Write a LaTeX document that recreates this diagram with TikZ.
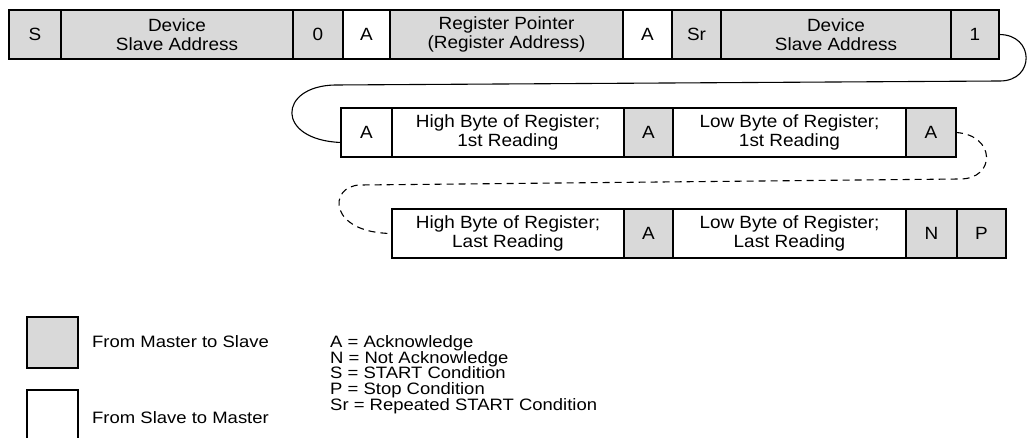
\documentclass[tikz,border=0pt]{standalone}
\usepackage{fontspec}
\setmainfont{Liberation Sans}
\newfontfamily\cellfamily{Liberation Sans}[FakeStretch=1.07]
\newfontfamily\keyfamily{Liberation Sans}[FakeStretch=1.12]
\usepackage{xcolor}
\usepackage{tikz}
\usetikzlibrary{positioning}

\definecolor{mastergray}{RGB}{217,217,217}
\newcommand{\cellfont}{\cellfamily\fontsize{17.7}{19}\selectfont\lineskiplimit=-20pt\relax}
\newcommand{\keyfont}{\keyfamily\fontsize{16.5}{15.6}\selectfont\lineskiplimit=-20pt\relax}

\begin{document}
\begin{tikzpicture}[
        x=1pt, y=-1pt,
        node distance=0pt,
        cell/.style={
            rectangle,
            draw,
            line width=1.7pt,
            minimum height=49pt,
            inner sep=0pt,
            outer sep=0pt,
            align=center,
            font=\cellfont
        },
        master/.style={cell, fill=mastergray},
        slave/.style={cell, fill=white},
        link/.style={line width=1.1pt},
        legend/.style={inner sep=0pt, font=\keyfont}
    ]
    \useasboundingbox (0,0) rectangle (1028,438);

    % Write pointer, then repeated start
    \node[master, minimum width=52pt, anchor=north west] (start) at (9,10) {S};
    \node[master, minimum width=232pt, right=of start] (addr write) {Device\\Slave Address};
    \node[master, minimum width=50pt, right=of addr write] (zero) {0};
    \node[slave, minimum width=47pt, right=of zero] (ack addr) {A};
    \node[master, minimum width=233pt, right=of ack addr] (reg pointer) {Register Pointer\\(Register Address)};
    \node[slave, minimum width=49pt, right=of reg pointer] (ack reg) {A};
    \node[master, minimum width=49pt, right=of ack reg] (restart) {Sr};
    \node[master, minimum width=230pt, right=of restart] (addr read) {Device\\Slave Address};
    \node[master, minimum width=48pt, right=of addr read] (one) {1};

    % First reading
    \node[slave, minimum width=51pt, anchor=north west] (ack read) at (341,108) {A};
    \node[slave, minimum width=232pt, right=of ack read] (high first) {High Byte of Register;\\1st Reading};
    \node[master, minimum width=49pt, right=of high first] (ack high first) {A};
    \node[slave, minimum width=233pt, right=of ack high first] (low first) {Low Byte of Register;\\1st Reading};
    \node[master, minimum width=50pt, right=of low first] (ack low first) {A};

    % Last reading
    \node[slave, minimum width=232pt, anchor=north west] (high last) at (392,209) {High Byte of Register;\\Last Reading};
    \node[master, minimum width=49pt, right=of high last] (ack high last) {A};
    \node[slave, minimum width=233pt, right=of ack high last] (low last) {Low Byte of Register;\\Last Reading};
    \node[master, minimum width=51pt, right=of low last] (nack) {N};
    \node[master, minimum width=49pt, right=of nack] (stop) {P};

    % Wraps
    \draw[link] (one.east) .. controls (1035,34.5) and (1035,81) .. (1000,81)
        -- (335,85) .. controls (278,86) and (275,140) .. ([yshift=-10pt]ack read.west);
    \draw[link, dash pattern=on 7pt off 5pt] (ack low first.east) .. controls (996,135) and (996,179) .. (960,179)
        -- (360,185) .. controls (328,186) and (328,233) .. (high last.west);

    % Legend
    \node[master, minimum width=51pt, minimum height=51pt, anchor=north west] (key master) at (27,317) {};
    \node[slave, minimum width=51pt, minimum height=51pt, anchor=north west] (key slave) at (27,390) {};
    \node[legend, anchor=base west] (key master text) at (92,348) {From Master to Slave};
    \node[legend, anchor=base west] (key slave text) at (92,423) {From Slave to Master};
    \node[legend, align=left, anchor=north west] (abbreviations) at (330,335.5) {A = Acknowledge\\N = Not Acknowledge\\S = START Condition\\P = Stop Condition\\Sr = Repeated START Condition};

\end{tikzpicture}
\end{document}
